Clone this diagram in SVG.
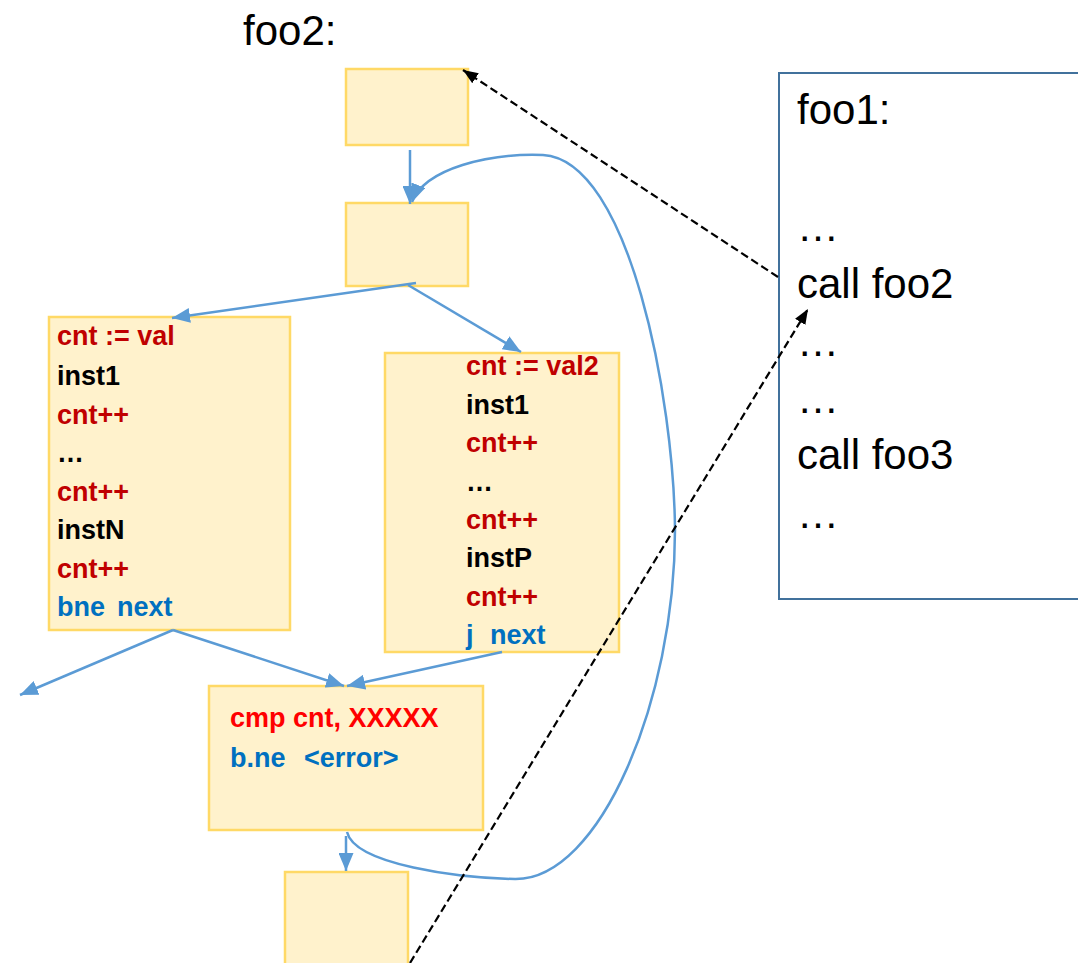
<svg xmlns="http://www.w3.org/2000/svg" width="1078" height="963" viewBox="0 0 1078 963">
  <style>
    .blk { fill: #FFF2CC; stroke: #FFD966; stroke-width: 2.5; }
    .code { font-family: "Liberation Sans", Arial, sans-serif; font-weight: bold; font-size: 27px; }
    .red { fill: #C00000; }
    .bright { fill: #FF0000; }
    .ink { fill: #000000; }
    .blue { fill: #0070C0; }
    .big { font-family: "Liberation Sans", Arial, sans-serif; font-size: 42px; fill: #000; }
    .flow { fill: none; stroke: #5B9BD5; stroke-width: 2.5; }
    .call { fill: none; stroke: #000; stroke-width: 2.2; stroke-dasharray: 8 4; }
  </style>
  <defs>
    <marker id="blueHead" viewBox="0 0 10 10" refX="10" refY="5" markerWidth="18" markerHeight="15" markerUnits="userSpaceOnUse" orient="auto" preserveAspectRatio="none">
      <path d="M0,0 L10,5 L0,10 z" fill="#5B9BD5"/>
    </marker>
    <marker id="blackHead" viewBox="0 0 10 10" refX="10" refY="5" markerWidth="15" markerHeight="12" markerUnits="userSpaceOnUse" orient="auto" preserveAspectRatio="none">
      <path d="M0,0 L10,5 L0,10 z" fill="#000"/>
    </marker>
  </defs>

  <!-- function label -->
  <text class="big" x="243" y="45">foo2:</text>

  <!-- foo2 basic blocks -->
  <g id="entry">
    <rect class="blk" x="346" y="69" width="122" height="76"/>
  </g>
  <g id="header">
    <rect class="blk" x="346" y="203" width="122" height="83"/>
  </g>
  <g id="pathA">
    <rect class="blk" x="49" y="317" width="241" height="313"/>
    <text class="code red" x="57" y="345">cnt := val</text>
    <text class="code ink" x="57" y="385">inst1</text>
    <text class="code red" x="57" y="423.5">cnt++</text>
    <text class="code ink" x="57" y="462">…</text>
    <text class="code red" x="57" y="500.5">cnt++</text>
    <text class="code ink" x="57" y="539">instN</text>
    <text class="code red" x="57" y="577.5">cnt++</text>
    <text class="code blue" x="57" y="616">bne<tspan x="117">next</tspan></text>
  </g>
  <g id="pathB">
    <rect class="blk" x="385" y="353" width="234" height="299"/>
    <text class="code red" x="466" y="375">cnt := val2</text>
    <text class="code ink" x="466" y="414">inst1</text>
    <text class="code red" x="466" y="452">cnt++</text>
    <text class="code ink" x="466" y="491">…</text>
    <text class="code red" x="466" y="529">cnt++</text>
    <text class="code ink" x="466" y="567">instP</text>
    <text class="code red" x="466" y="606">cnt++</text>
    <text class="code blue" x="466" y="644">j<tspan x="490">next</tspan></text>
  </g>
  <g id="check">
    <rect class="blk" x="209" y="686" width="274" height="144"/>
    <text class="code bright" x="230" y="727">cmp cnt, XXXXX</text>
    <text class="code blue" x="230" y="767">b.ne<tspan x="304">&lt;error&gt;</tspan></text>
  </g>
  <g id="exit">
    <rect class="blk" x="285" y="872" width="123" height="110"/>
  </g>

  <!-- foo1 listing -->
  <g id="foo1">
    <rect x="779" y="73" width="320" height="526" fill="#fff" stroke="#41719C" stroke-width="2"/>
    <text class="big" x="797" y="124">foo1:</text>
    <text class="big" x="797" y="241">…</text>
    <text class="big" x="797" y="298">call foo2</text>
    <text class="big" x="797" y="356">…</text>
    <text class="big" x="797" y="413">…</text>
    <text class="big" x="797" y="469">call foo3</text>
    <text class="big" x="797" y="528">…</text>
  </g>

  <!-- control-flow and call edges -->
  <g id="connectors">
    <path class="flow" d="M410,150 L410,204" marker-end="url(#blueHead)"/>
    <path class="flow" d="M416,283 L172,318" marker-end="url(#blueHead)"/>
    <path class="flow" d="M408,285 L521,352" marker-end="url(#blueHead)"/>
    <path class="flow" d="M173,630 L20,695" marker-end="url(#blueHead)"/>
    <path class="flow" d="M173,630 L344,686" marker-end="url(#blueHead)"/>
    <path class="flow" d="M502,652 L347,686" marker-end="url(#blueHead)"/>
    <path class="flow" d="M346,836 L346,871" marker-end="url(#blueHead)"/>
    <path class="flow" d="M347,832 C355,865 460,878 515,879 C600,880 675,700 675,530 C674,400 630,160 543,155 C490,153 425,168 412,202" marker-end="url(#blueHead)"/>
    <path class="call" d="M778,277 L463,70" marker-end="url(#blackHead)"/>
    <path class="call" d="M410,963 L808,309" marker-end="url(#blackHead)"/>
  </g>
</svg>
